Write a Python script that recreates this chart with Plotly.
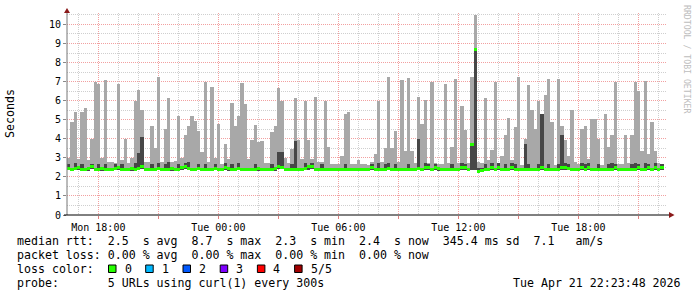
import plotly.graph_objects as go
from datetime import datetime, timedelta

# ---------------- data ----------------
start_time = datetime(2026, 4, 20, 16, 26)
step_minutes = 10

# upper edge of the smoke (max of the 5 probes), seconds, one value per 10 minutes
smoke_max = [
    3.0, 4.9, 5.4, 2.95, 5.4, 5.6, 2.9, 4.0, 7.0, 6.9,
    3.0, 7.1, 2.8, 2.8, 2.75, 6.9, 2.9, 4.0, 2.75, 3.0,
    6.0, 6.55, 5.5, 2.8, 2.8, 4.65, 3.5, 7.25, 2.8, 4.5,
    6.15, 2.8, 2.85, 5.2, 3.0, 4.2, 4.65, 5.2, 4.95, 4.4,
    3.3, 7.0, 2.8, 6.7, 3.0, 4.8, 2.7, 3.75, 2.95, 5.9,
    4.65, 5.2, 6.95, 5.85, 2.95, 3.95, 4.7, 3.85, 3.9, 2.75,
    2.75, 4.35, 4.65, 6.65, 6.0, 3.0, 2.75, 3.45, 6.15, 3.95,
    2.95, 6.0, 3.95, 2.95, 6.2, 2.8, 2.8, 6.0, 3.55, 2.7,
    2.7, 2.7, 3.1, 5.3, 5.4, 2.7, 2.7, 2.9, 2.7, 2.7,
    2.65, 2.8, 3.2, 6.0, 2.8, 3.5, 7.25, 3.5, 4.4, 2.8,
    7.1, 3.35, 7.2, 3.35, 2.75, 6.2, 4.8, 6.05, 2.75, 7.0,
    2.75, 2.7, 2.7, 6.85, 2.75, 3.55, 7.15, 2.75, 5.7, 4.45,
    2.75, 7.25, 10.5, 2.8, 2.75, 6.15, 2.9, 3.4, 7.0, 2.75,
    3.1, 4.2, 5.1, 2.9, 4.6, 7.25, 2.65, 4.0, 6.8, 5.5,
    4.5, 6.0, 5.3, 6.3, 7.15, 4.9, 2.65, 7.15, 4.65, 3.95,
    3.1, 5.5, 2.8, 2.7, 4.5, 4.65, 2.95, 5.05, 5.05, 4.0,
    2.6, 5.3, 3.55, 4.2, 7.0, 2.7, 2.7, 4.2, 2.75, 4.2,
    7.0, 6.5, 3.35, 7.05, 3.2, 4.9, 3.35, 2.75, 2.7, None,
]

# upper edge of the dark (inner) smoke band, seconds
smoke_inner = [
    2.7, 2.45, 2.75, 2.45, 2.7, 2.45, 2.45, 2.7, 2.45, 2.7,
    2.45, 2.7, 2.45, 2.45, 2.7, 2.45, 2.7, 2.45, 2.45, 2.45,
    2.75, 3.25, 4.1, 2.45, 2.45, 2.7, 2.45, 2.75, 2.45, 2.7,
    2.8, 2.45, 2.45, 2.7, 2.45, 2.75, 2.8, 2.45, 2.45, 2.7,
    2.45, 2.7, 2.45, 2.45, 2.7, 2.45, 2.45, 2.75, 2.45, 2.7,
    2.45, 2.75, 2.45, 2.45, 2.45, 2.45, 2.7, 2.45, 2.45, 2.45,
    2.45, 2.7, 2.45, 3.3, 3.3, 2.45, 2.45, 2.7, 3.9, 2.45,
    2.45, 2.75, 2.45, 2.75, 2.45, 2.45, 2.7, 2.45, 2.45, 2.45,
    2.45, 2.45, 2.45, 2.7, 2.45, 2.45, 2.45, 2.45, 2.45, 2.45,
    2.45, 2.7, 2.45, 2.75, 2.45, 2.7, 2.75, 2.45, 2.7, 2.45,
    2.45, 2.45, 2.7, 2.45, 2.45, 4.0, 2.45, 2.75, 2.7, 2.45,
    2.7, 2.45, 2.45, 2.45, 2.45, 2.7, 2.45, 2.45, 2.75, 2.7,
    2.45, 3.65, 8.75, 2.45, 2.45, 2.7, 2.45, 2.75, 2.45, 2.75,
    2.45, 2.7, 2.45, 2.75, 2.7, 2.45, 2.45, 3.75, 2.7, 2.45,
    2.45, 2.7, 5.3, 2.45, 2.7, 2.45, 2.45, 2.7, 4.2, 2.75,
    2.7, 2.45, 2.45, 2.45, 2.75, 2.7, 2.75, 2.45, 2.45, 2.7,
    2.45, 2.45, 2.7, 2.75, 2.7, 2.45, 2.45, 2.45, 2.45, 2.7,
    2.75, 2.7, 2.45, 2.75, 2.7, 2.45, 2.75, 2.45, 2.7, None,
]

# lower edge of the smoke (min of the 5 probes), seconds
smoke_min = [
    2.35, 2.35, 2.35, 2.40, 2.35, 2.35, 2.35, 2.40, 2.35, 2.35,
    2.35, 2.35, 2.35, 2.35, 2.35, 2.40, 2.35, 2.35, 2.35, 2.35,
    2.35, 2.35, 2.40, 2.35, 2.35, 2.35, 2.35, 2.35, 2.35, 2.35,
    2.35, 2.35, 2.35, 2.35, 2.40, 2.40, 2.35, 2.35, 2.35, 2.35,
    2.35, 2.35, 2.35, 2.35, 2.35, 2.35, 2.35, 2.35, 2.35, 2.35,
    2.35, 2.35, 2.35, 2.35, 2.35, 2.35, 2.35, 2.35, 2.35, 2.35,
    2.35, 2.35, 2.35, 2.40, 2.40, 2.35, 2.35, 2.35, 2.35, 2.35,
    2.35, 2.35, 2.40, 2.40, 2.35, 2.35, 2.35, 2.35, 2.35, 2.35,
    2.35, 2.35, 2.35, 2.35, 2.35, 2.35, 2.35, 2.35, 2.35, 2.35,
    2.35, 2.35, 2.35, 2.35, 2.35, 2.35, 2.35, 2.35, 2.35, 2.35,
    2.35, 2.35, 2.35, 2.35, 2.35, 2.35, 2.35, 2.35, 2.35, 2.35,
    2.35, 2.35, 2.35, 2.35, 2.35, 2.35, 2.35, 2.35, 2.35, 2.35,
    2.35, 2.35, 2.35, 2.25, 2.30, 2.35, 2.35, 2.35, 2.35, 2.35,
    2.35, 2.35, 2.35, 2.35, 2.35, 2.35, 2.35, 2.35, 2.35, 2.35,
    2.35, 2.35, 2.35, 2.35, 2.35, 2.35, 2.35, 2.35, 2.35, 2.35,
    2.35, 2.35, 2.35, 2.35, 2.35, 2.35, 2.35, 2.35, 2.35, 2.35,
    2.35, 2.35, 2.35, 2.35, 2.35, 2.35, 2.35, 2.35, 2.35, 2.35,
    2.35, 2.35, 2.35, 2.35, 2.35, 2.35, 2.35, 2.35, 2.35, None,
]

# median round trip time, seconds
median_rtt = [
    2.45, 2.40, 2.45, 2.50, 2.40, 2.40, 2.45, 2.55, 2.40, 2.40,
    2.45, 2.40, 2.40, 2.40, 2.45, 2.50, 2.40, 2.40, 2.40, 2.45,
    2.40, 2.45, 2.55, 2.40, 2.40, 2.40, 2.40, 2.45, 2.40, 2.40,
    2.40, 2.45, 2.40, 2.40, 2.50, 2.55, 2.45, 2.40, 2.40, 2.45,
    2.40, 2.40, 2.40, 2.40, 2.45, 2.40, 2.40, 2.50, 2.45, 2.40,
    2.40, 2.45, 2.40, 2.40, 2.40, 2.40, 2.40, 2.45, 2.40, 2.40,
    2.40, 2.40, 2.45, 2.55, 2.50, 2.40, 2.40, 2.40, 2.40, 2.40,
    2.40, 2.45, 2.55, 2.55, 2.40, 2.40, 2.40, 2.40, 2.40, 2.40,
    2.40, 2.40, 2.40, 2.40, 2.40, 2.40, 2.40, 2.40, 2.40, 2.40,
    2.40, 2.50, 2.40, 2.40, 2.40, 2.40, 2.45, 2.40, 2.40, 2.40,
    2.40, 2.40, 2.40, 2.40, 2.40, 2.45, 2.40, 2.50, 2.50, 2.40,
    2.50, 2.45, 2.40, 2.40, 2.40, 2.40, 2.40, 2.40, 2.50, 2.50,
    2.40, 3.70, 8.70, 2.30, 2.35, 2.40, 2.40, 2.50, 2.40, 2.50,
    2.40, 2.40, 2.40, 2.50, 2.40, 2.40, 2.40, 2.40, 2.40, 2.40,
    2.40, 2.40, 2.50, 2.40, 2.40, 2.40, 2.40, 2.40, 2.50, 2.50,
    2.45, 2.40, 2.40, 2.40, 2.50, 2.40, 2.50, 2.40, 2.40, 2.40,
    2.40, 2.40, 2.40, 2.40, 2.50, 2.40, 2.40, 2.40, 2.40, 2.40,
    2.40, 2.50, 2.40, 2.40, 2.50, 2.40, 2.50, 2.40, 2.50, None,
]

y_ticks = list(range(0, 11))
x_tick_labels = ["Mon 18:00", "", "Tue 00:00", "", "Tue 06:00", "",
                 "Tue 12:00", "", "Tue 18:00", ""]
loss_labels = ["0", "1", "2", "3", "4", "5/5"]
loss_colors = ["#26ff00", "#00b8ff", "#0059ff", "#7e00ff", "#ff0000", "#a10000"]

legend_lines = [
    "median rtt:  2.5  s avg  8.7  s max  2.3  s min  2.4  s now  345.4 ms sd  7.1   am/s",
    "packet loss: 0.00 % avg  0.00 % max  0.00 % min  0.00 % now",
    "loss color:",
    "probe:       5 URLs using curl(1) every 300s",
]
stamp = "Tue Apr 21 22:23:48 2026"

# ---------------- figure ----------------
W_FIG, H_FIG = 697, 297
L, R, T, B = 67, 30, 13, 82
PW, PH = W_FIG - L - R, H_FIG - T - B
X_END = L + PW
Y_BOT = T + PH
MED_HALF = 0.08  # half thickness of the median band (seconds)


def px(x):
    return (x - L) / PW


def py(y):
    return (Y_BOT - y) / PH


def nb(s):
    return s.replace(" ", "\u00a0")


step = timedelta(minutes=step_minutes)
n = len(smoke_max)
centers = [start_time + step * (i + 0.5) for i in range(n)]
range_end = start_time + timedelta(hours=30)
valid = [i for i in range(n) if smoke_max[i] is not None]
bar_w = step.total_seconds() * 1000

fig = go.Figure()
fig.add_trace(go.Bar(
    x=[centers[i] for i in valid],
    y=[smoke_max[i] - smoke_min[i] for i in valid],
    base=[smoke_min[i] for i in valid],
    width=bar_w, marker=dict(color="#a8a8a8", line=dict(width=0)),
    hoverinfo="skip",
))
fig.add_trace(go.Bar(
    x=[centers[i] for i in valid],
    y=[max(smoke_inner[i] - smoke_min[i], 0) for i in valid],
    base=[smoke_min[i] for i in valid],
    width=bar_w, marker=dict(color="#474747", line=dict(width=0)),
    hoverinfo="skip",
))
fig.add_trace(go.Bar(
    x=[centers[i] for i in valid],
    y=[2 * MED_HALF for i in valid],
    base=[median_rtt[i] - MED_HALF for i in valid],
    width=bar_w, marker=dict(color="#26ff00", line=dict(width=0)),
    hoverinfo="skip",
))

major_ticks = [datetime(2026, 4, 20, 18, 0) + timedelta(hours=3 * k) for k in range(len(x_tick_labels))]

mono = "DejaVu Sans Mono"
fig.update_layout(
    width=W_FIG, height=H_FIG,
    margin=dict(l=L, r=R, t=T, b=B, pad=0),
    paper_bgcolor="white", plot_bgcolor="white",
    showlegend=False, barmode="overlay", bargap=0,
    font=dict(family=mono, size=10, color="black"),
    xaxis=dict(
        type="date", range=[start_time, range_end],
        tickvals=major_ticks, ticktext=x_tick_labels,
        showgrid=True, gridcolor="#f2a0a0", griddash="1px,1px", gridwidth=1,
        ticks="outside", ticklen=3, tickcolor="#e08080",
        showline=False, zeroline=False,
        tickfont=dict(family=mono, size=10, color="black"),
        minor=dict(dtick=3600000, tick0="2026-04-20 18:00", showgrid=True,
                   gridcolor="#cfcfcf", griddash="1px,1px", gridwidth=1),
    ),
    yaxis=dict(
        range=[0, 10.6], tickvals=y_ticks,
        showgrid=True, gridcolor="#f2a0a0", griddash="1px,1px", gridwidth=1,
        ticks="outside", ticklen=3, tickcolor="#888888",
        showline=False, zeroline=False,
        tickfont=dict(family=mono, size=10, color="black"),
        minor=dict(dtick=0.5, showgrid=True, gridcolor="#cfcfcf",
                   griddash="1px,1px", gridwidth=1),
    ),
)

shapes = []
shapes.append(dict(type="line", xref="paper", yref="paper", x0=px(L), x1=px(L),
                   y0=py(Y_BOT), y1=py(10), line=dict(color="#777777", width=1)))
shapes.append(dict(type="line", xref="paper", yref="paper", x0=px(L - 3), x1=px(X_END + 5),
                   y0=py(Y_BOT), y1=py(Y_BOT), line=dict(color="black", width=1)))
shapes.append(dict(type="path", xref="paper", yref="paper",
                   path=f"M {px(L-3)} {py(13)} L {px(L+3)} {py(13)} L {px(L)} {py(8)} Z",
                   fillcolor="#8b1a1a", line=dict(width=0)))
shapes.append(dict(type="path", xref="paper", yref="paper",
                   path=f"M {px(X_END+2)} {py(Y_BOT-3)} L {px(X_END+2)} {py(Y_BOT+3)} L {px(X_END+7.5)} {py(Y_BOT)} Z",
                   fillcolor="#8b1a1a", line=dict(width=0)))
box_x0 = [108.5, 145.7, 183.0, 220.2, 257.4, 294.6]
for bx, col in zip(box_x0, loss_colors):
    shapes.append(dict(type="rect", xref="paper", yref="paper",
                       x0=px(bx), x1=px(bx + 7.5), y0=py(272.5), y1=py(265),
                       fillcolor=col, line=dict(color="black", width=1)))
fig.update_layout(shapes=shapes)

ann = []
line_y = [241, 255, 269, 283]
for text, yy in zip(legend_lines, line_y):
    ann.append(dict(text=nb(text), x=px(15), y=py(yy), xref="paper", yref="paper",
                    xanchor="left", yanchor="middle", showarrow=False,
                    font=dict(family=mono, size=11.6, color="black")))
for bx, lab in zip(box_x0, loss_labels):
    ann.append(dict(text=lab, x=px(bx + 14), y=py(269), xref="paper", yref="paper",
                    xanchor="left", yanchor="middle", showarrow=False,
                    font=dict(family=mono, size=11.6, color="black")))
ann.append(dict(text=nb(stamp), x=px(683), y=py(283), xref="paper", yref="paper",
                xanchor="right", yanchor="middle", showarrow=False,
                font=dict(family=mono, size=11.6, color="black")))
ann.append(dict(text="Seconds", x=px(10), y=py(114), xref="paper", yref="paper",
                xanchor="center", yanchor="middle", showarrow=False, textangle=-90,
                font=dict(family=mono, size=11.6, color="black")))
ann.append(dict(text=nb("RRDTOOL / TOBI OETIKER"), x=px(687), y=py(59), xref="paper", yref="paper",
                xanchor="center", yanchor="middle", showarrow=False, textangle=90,
                font=dict(family=mono, size=8.2, color="#bdbdbd")))
fig.update_layout(annotations=ann)

fig.write_html("out.html")
